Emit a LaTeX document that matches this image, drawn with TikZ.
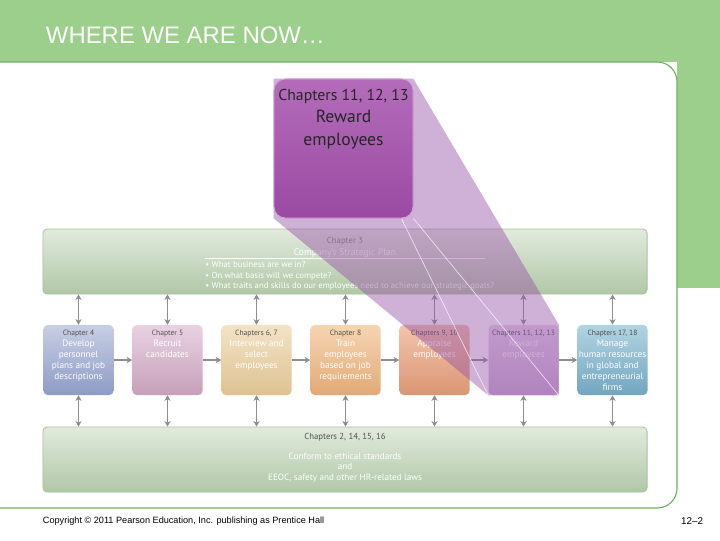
\documentclass[tikz,border=0pt]{standalone}
\usepackage{fontspec}
\setmainfont{Liberation Sans}
\newfontfamily\boxfont{PT Sans}
\usetikzlibrary{arrows.meta,positioning,calc}
\definecolor{hdrgreen}{HTML}{9CCF8B}
\definecolor{edgegreen}{HTML}{6FAE62}
\definecolor{bandtop}{HTML}{E2EADD}
\definecolor{bandbot}{HTML}{B0C8A7}
\definecolor{bandedge}{HTML}{A9C29F}
\definecolor{arrowgray}{HTML}{8E8E8E}
\definecolor{chapgray}{HTML}{505050}
\definecolor{beampurple}{HTML}{9650A5}
\definecolor{planstop}{HTML}{C7CEE4}\definecolor{plansbot}{HTML}{8E9BC5}
\definecolor{recrtop}{HTML}{E8D2E2}\definecolor{recrbot}{HTML}{C6A0B9}
\definecolor{selctop}{HTML}{F2E3C6}\definecolor{selcbot}{HTML}{DEC292}
\definecolor{traintop}{HTML}{F6D5B2}\definecolor{trainbot}{HTML}{E2A977}
\definecolor{apprtop}{HTML}{F2C4AC}\definecolor{apprbot}{HTML}{DA9674}
\definecolor{rewtop}{HTML}{E6D8EC}\definecolor{rewbot}{HTML}{C8AED4}
\definecolor{globtop}{HTML}{B2D4E2}\definecolor{globbot}{HTML}{72A6BF}
\definecolor{calltop}{HTML}{B46CBA}\definecolor{callbot}{HTML}{9A4AA2}
\newcommand{\chap}[1]{{\fontsize{5.4}{7}\selectfont\color{chapgray}#1}}

\begin{document}
\begin{tikzpicture}[x=0.025cm,y=-0.025cm,
  stagebox/.style={rounded corners=3pt, minimum width=1.75cm, minimum height=1.75cm, inner sep=0pt},
  stagetext/.style={align=center, text=white, inner sep=0pt, font=\boxfont\fontsize{6.6}{7.8}\selectfont},
  band/.style={rounded corners=3pt, minimum width=15.1cm, minimum height=1.625cm, inner sep=0pt,
    top color=bandtop, bottom color=bandbot, draw=bandedge, line width=0.6pt},
  bandtext/.style={text=white, inner sep=0pt, font=\boxfont\fontsize{6.2}{7.6}\selectfont},
  link/.style={-{Stealth[length=4pt,width=4.5pt]}, draw=arrowgray, line width=1.1pt},
  dlink/.style={{Stealth[length=4pt,width=4.5pt]}-{Stealth[length=4pt,width=4.5pt]}, draw=arrowgray, line width=1.1pt}]
\useasboundingbox (0,0) rectangle (720,540);
% page frame
\fill[hdrgreen] (0,0) rectangle (720,62);
\fill[hdrgreen] (677,0) rectangle (720,288);
\fill[white, rounded corners=14] (-20,62) rectangle (677,508);
\draw[edgegreen, line width=0.8pt, rounded corners=14] (0,62) -- (677,62) -- (677,288);
\draw[edgegreen, line width=0.8pt, rounded corners=14] (677,288) -- (677,508) -- (0,508);
\node[anchor=west, text=white, font=\fontsize{17}{20}\selectfont] (title) at (41,35) {WHERE WE ARE NOW…};

% bands
\node[band] (plan) at (345,261.5) {};
\node[bandtext, text=chapgray!70] (plantop) at (345,241) {Chapter 3};
\node[bandtext, font=\boxfont\fontsize{6.8}{8}\selectfont] (planname) at (345,253) {Company’s Strategic Plan};
\draw[white, line width=0.5pt] (205,258) -- (485,258);
\node[bandtext, anchor=north west, align=left] (planlist) at (205,261) {• What business are we in?\\
  • On what basis will we compete?\\
  • What traits and skills do our employees need to achieve our strategic goals?};

\node[band] (laws) at (345,459.5) {};
\node[bandtext, text=chapgray] (lawstop) at (345,437) {Chapters 2, 14, 15, 16};
\node[bandtext, align=center, font=\boxfont\fontsize{6.5}{7.4}\selectfont] (lawsname) at (345,467.5) {Conform to ethical standards\\and\\EEOC, safety and other HR-related laws};

% stages
\node[stagebox, top color=planstop, bottom color=plansbot] (b1) at (78.5,360) {};
\node[stagebox, top color=recrtop, bottom color=recrbot] (b2) at (167.5,360) {};
\node[stagebox, top color=selctop, bottom color=selcbot] (b3) at (256.5,360) {};
\node[stagebox, top color=traintop, bottom color=trainbot] (b4) at (345.5,360) {};
\node[stagebox, top color=apprtop, bottom color=apprbot] (b5) at (434.5,360) {};
\node[stagebox, top color=rewtop, bottom color=rewbot] (b6) at (523.5,360) {};
\node[stagebox, top color=globtop, bottom color=globbot] (b7) at (612.5,360) {};
\node[stagetext, below=0.12cm of b1.north] (t1) {\chap{Chapter 4}\\Develop\\personnel\\plans and job\\descriptions};
\node[stagetext, below=0.12cm of b2.north] (t2) {\chap{Chapter 5}\\Recruit\\candidates};
\node[stagetext, below=0.12cm of b3.north] (t3) {\chap{Chapters 6, 7}\\Interview and\\select\\employees};
\node[stagetext, below=0.12cm of b4.north] (t4) {\chap{Chapter 8}\\Train\\employees\\based on job\\requirements};
\node[stagetext, below=0.12cm of b5.north] (t5) {\chap{Chapters 9, 10}\\Appraise\\employees};
\node[stagetext, below=0.12cm of b6.north] (t6) {\chap{Chapters 11, 12, 13}\\Reward\\employees};
\node[stagetext, below=0.12cm of b7.north] (t7) {\chap{Chapters 17, 18}\\Manage\\human resources\\in global and\\entrepreneurial\\firms};

% arrows
\draw[link] (b1) -- (b2);
\draw[link] (b2) -- (b3);
\draw[link] (b3) -- (b4);
\draw[link] (b4) -- (b5);
\draw[link] (b5) -- (b6);
\draw[link] (b6) -- (b7);
\foreach \b in {b1,b2,b3,b4,b5,b6,b7}{
  \draw[dlink] (\b.north |- plan.south) -- (\b.north);
  \draw[dlink] (\b.south) -- (\b.south |- laws.north);
}

% spotlight on chapters 11--13
\node[rounded corners=8pt, minimum width=3.475cm, minimum height=3.475cm, inner sep=0pt,
  top color=calltop, bottom color=callbot] (focus) at (343.5,148.5) {};
\fill[beampurple, opacity=0.45] (focus.north west) -- (focus.north east) -- (b6.north east)
  -- (b6.south east) -- (b6.south west) -- (focus.south west) -- cycle;
\draw[white, opacity=0.7, line width=0.5pt] ([xshift=-0.3cm]focus.south east) -- (b6.south west);
\draw[white, opacity=0.7, line width=0.5pt] (focus.south east) -- (b6.south east);
\node[rounded corners=8pt, minimum width=3.475cm, minimum height=3.475cm, inner sep=0pt,
  top color=calltop, bottom color=callbot, draw=calltop!60!white, line width=0.6pt] (focusbox) at (focus) {};
\node[below=0.25cm of focusbox.north, align=center, text=black!85, inner sep=0pt,
  font=\boxfont\fontsize{12.5}{16.2}\selectfont] (focustext) {{\fontsize{11.2}{13}\selectfont Chapters 11, 12, 13}\\Reward\\employees};

% footer
\node[anchor=west, font=\fontsize{6.5}{8}\selectfont] (copy) at (38,521) {Copyright © 2011 Pearson Education, Inc. publishing as Prentice Hall};
\node[anchor=east, font=\fontsize{7}{8}\selectfont] (pagenum) at (708,521) {12–2};
\end{tikzpicture}
\end{document}
